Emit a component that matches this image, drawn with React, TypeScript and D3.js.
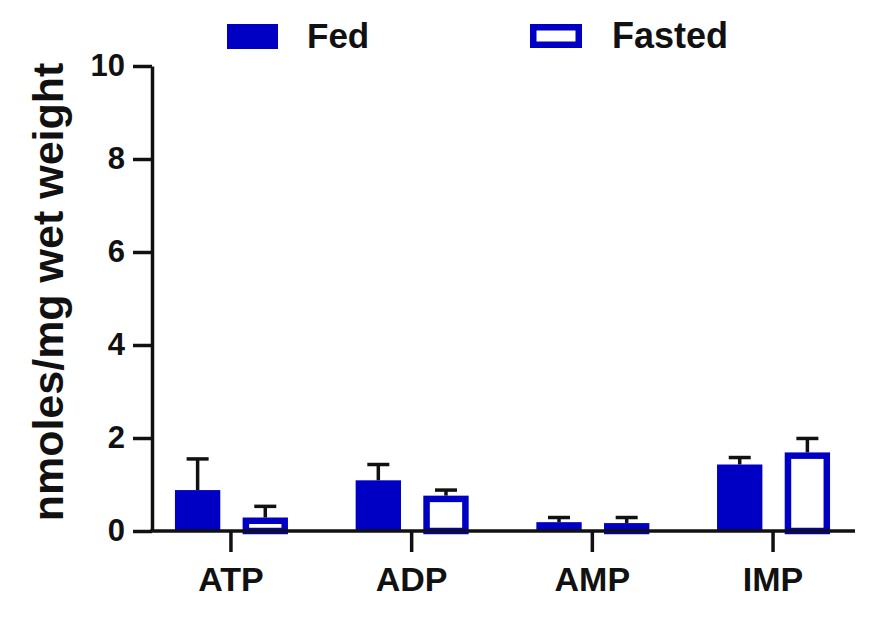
import React, { useEffect, useRef } from "react";
import * as d3 from "d3";

const categories = ["ATP", "ADP", "AMP", "IMP"];
const groups = ["Fed", "Fasted"];
const fedValues = [0.88, 1.09, 0.19, 1.43];
const fedErrors = [0.67, 0.34, 0.1, 0.15];
const fastedValues = [0.29, 0.76, 0.17, 1.69];
const fastedErrors = [0.24, 0.12, 0.12, 0.3];
const yTicks = [0, 2, 4, 6, 8, 10];

const BLUE = "#0000c4";
const INK = "#111";
const FONT = "'Liberation Sans', Arial, sans-serif";

const App: React.FC = () => {
	const svgRef = useRef<SVGSVGElement | null>(null);
	const width = 873;
	const height = 618;

	useEffect(() => {
		const svg = d3.select(svgRef.current);
		svg.selectAll("*").remove();

		const left = 152;
		const right = 855;
		const top = 66;
		const bottom = 531;

		const y = d3.scaleLinear().domain([0, 10]).range([bottom, top]);

		const x = d3
			.scaleBand()
			.domain(categories)
			.range([140.6, 863.4])
			.padding(0);

		// bars inside a group, relative to the group's centre
		const x1 = d3
			.scaleBand()
			.domain(groups)
			.range([-56, 57])
			.paddingInner(0.33);

		const centre = (c: string) => x(c)! + x.bandwidth() / 2;

		const rows = categories.map((c, i) => ({
			c,
			items: [
				{ g: "Fed", v: fedValues[i], e: fedErrors[i] },
				{ g: "Fasted", v: fastedValues[i], e: fastedErrors[i] },
			],
		}));

		const sw = 6.5;
		const bars = svg.append("g");
		rows.forEach((r) => {
			r.items.forEach((d) => {
				const x0 = centre(r.c) + x1(d.g)!;
				const bw = x1.bandwidth();
				// error bar, upper half only
				const cx = x0 + bw / 2;
				bars.append("line")
					.attr("x1", cx)
					.attr("x2", cx)
					.attr("y1", y(d.v))
					.attr("y2", y(d.v + d.e))
					.attr("stroke", INK)
					.attr("stroke-width", 3.5);
				bars.append("line")
					.attr("x1", cx - 11)
					.attr("x2", cx + 11)
					.attr("y1", y(d.v + d.e))
					.attr("y2", y(d.v + d.e))
					.attr("stroke", INK)
					.attr("stroke-width", 3.5);
				if (d.g === "Fed") {
					bars.append("rect")
						.attr("x", x0)
						.attr("y", y(d.v))
						.attr("width", bw)
						.attr("height", bottom - y(d.v))
						.attr("fill", BLUE);
				} else {
					bars.append("rect")
						.attr("x", x0 + sw / 2)
						.attr("y", y(d.v) + sw / 2)
						.attr("width", bw - sw)
						.attr("height", Math.max(0, bottom - y(d.v) - sw / 2))
						.attr("fill", "white")
						.attr("stroke", BLUE)
						.attr("stroke-width", sw);
				}
			});
		});

		// y axis
		const yAxis = svg
			.append("g")
			.attr("transform", `translate(${left},0)`)
			.call(
				d3
					.axisLeft(y)
					.tickValues(yTicks)
					.tickSize(19)
					.tickSizeOuter(0)
					.tickPadding(8)
					.tickFormat(d3.format("d"))
			);
		yAxis.selectAll("path, line").attr("stroke", INK).attr("stroke-width", 3.5);
		yAxis.selectAll("text")
			.attr("fill", INK)
			.attr("font-family", FONT)
			.attr("font-weight", "bold")
			.attr("font-size", 31);

		// x axis
		const xAxis = svg
			.append("g")
			.attr("transform", `translate(0,${bottom})`)
			.call(d3.axisBottom(x).tickSize(21).tickSizeOuter(0));
		xAxis.select(".domain").remove();
		xAxis.append("line")
			.attr("x1", left - 1.75)
			.attr("x2", right)
			.attr("stroke", INK)
			.attr("stroke-width", 3.5);
		xAxis.selectAll(".tick line").attr("stroke", INK).attr("stroke-width", 3.5);
		xAxis.selectAll(".tick text")
			.attr("y", 60)
			.attr("dy", 0)
			.attr("fill", INK)
			.attr("font-family", FONT)
			.attr("font-weight", "bold")
			.attr("font-size", 34);

		// y title
		svg.append("text")
			.attr("transform", `translate(63,292) rotate(-90)`)
			.attr("text-anchor", "middle")
			.attr("font-family", FONT)
			.attr("font-weight", "bold")
			.attr("font-size", 43)
			.attr("fill", INK)
			.text("nmoles/mg wet weight");

		// legend
		const legend = svg.append("g");
		legend.append("rect")
			.attr("x", 227)
			.attr("y", 24)
			.attr("width", 51)
			.attr("height", 25)
			.attr("fill", BLUE);
		legend.append("text")
			.attr("x", 307)
			.attr("y", 48)
			.attr("font-family", FONT)
			.attr("font-weight", "bold")
			.attr("font-size", 35)
			.attr("fill", INK)
			.text("Fed");
		legend.append("rect")
			.attr("x", 530 + sw / 2)
			.attr("y", 24 + sw / 2)
			.attr("width", 52 - sw)
			.attr("height", 24 - sw)
			.attr("fill", "white")
			.attr("stroke", BLUE)
			.attr("stroke-width", sw);
		legend.append("text")
			.attr("x", 612)
			.attr("y", 48)
			.attr("font-family", FONT)
			.attr("font-weight", "bold")
			.attr("font-size", 36)
			.attr("fill", INK)
			.text("Fasted");
	}, []);

	return (
		<svg
			ref={svgRef}
			width={width}
			height={height}
			style={{ position: "absolute", left: 0, top: 0, background: "white" }}
		></svg>
	);
};

export default App;
